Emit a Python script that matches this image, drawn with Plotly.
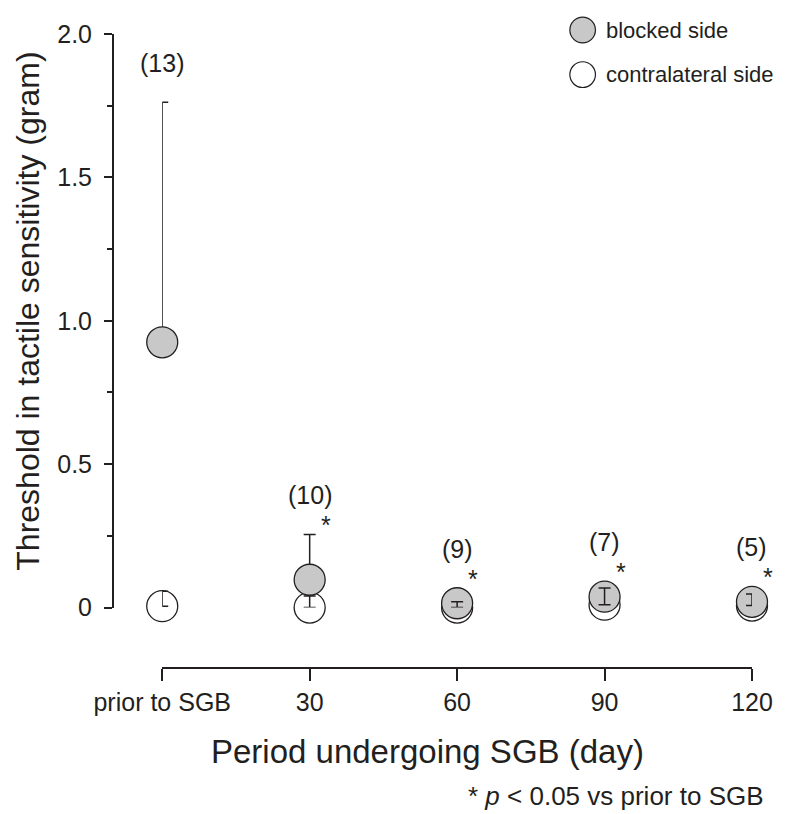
import plotly.graph_objects as go

# ---- data ----
categories = ["prior to SGB", "30", "60", "90", "120"]
blocked_mean = [0.925, 0.097, 0.015, 0.038, 0.02]
blocked_sd = [0.837, 0.158, 0.02, 0.03, 0.02]
contra_mean = [0.005, 0.0, 0.0, 0.01, 0.007]
contra_sd = [0.052, 0.04, 0.02, 0.058, 0.04]
n_labels = ["(13)", "(10)", "(9)", "(7)", "(5)"]
sig_marks = ["", "*", "*", "*", "*"]
ytick_vals = [0, 0.5, 1.0, 1.5, 2.0]
ytick_text = ["0", "0.5", "1.0", "1.5", "2.0"]

# ---- layout geometry (page body adds an 8px offset) ----
OFF = 8
W, H = 785 - OFF, 814 - OFF
ML = 113 - OFF
MT = 28 - OFF
XAX = 668 - OFF           # x-axis line pixel (figure coords)
MB = H - XAX
MR = W - (762 - OFF)
PW, PH = W - ML - MR, H - MT - MB
X0 = 163 - OFF            # x pixel of first category
Y0 = 607 - OFF            # y pixel of value 0


def pxx(p):
    """reference-screenshot x pixel -> paper fraction"""
    return (p - OFF - ML) / PW


def pxy(p):
    """reference-screenshot y pixel -> paper fraction"""
    return (XAX - (p - OFF)) / PH


yrange = [0, 2.0]
px_per_unit = (Y0 - MT) / (yrange[1] - yrange[0])

INK = "#231f20"
GRAY = "#c8c8c8"
FONT = "Arial, Liberation Sans, sans-serif"
MSIZE = 31

fig = go.Figure()

# contralateral markers (bottom layer)
fig.add_trace(go.Scatter(
    x=categories, y=contra_mean, mode="markers", name="contralateral side",
    marker=dict(size=MSIZE, color="white", line=dict(color=INK, width=1.3)),
    cliponaxis=False, showlegend=False, hoverinfo="skip"))

# blocked markers with their error bars beneath
fig.add_trace(go.Scatter(
    x=categories, y=blocked_mean, mode="markers", name="blocked side",
    marker=dict(size=MSIZE, color=GRAY, line=dict(color=INK, width=1.3)),
    error_y=dict(type="data", array=blocked_sd, arrayminus=[0] * 5,
                 symmetric=False, color=INK, thickness=1.5, width=6),
    cliponaxis=False, showlegend=False, hoverinfo="skip"))

# contralateral error bars on top
fig.add_trace(go.Scatter(
    x=categories, y=contra_mean, mode="markers",
    marker=dict(size=1, opacity=0),
    error_y=dict(type="data", array=contra_sd, arrayminus=[0] * 5,
                 symmetric=False, color=INK, thickness=1.5, width=6),
    cliponaxis=False, showlegend=False, hoverinfo="skip"))

annotations = []
radius_units = (MSIZE / 2) / px_per_unit
for i, (m, s, n, sig) in enumerate(zip(blocked_mean, blocked_sd, n_labels, sig_marks)):
    top = max(m + s, m + radius_units)
    annotations.append(dict(x=i, y=top, xref="x", yref="y", text=n, showarrow=False,
                            font=dict(family=FONT, size=25, color=INK),
                            yanchor="middle", yshift=39))
    if sig:
        annotations.append(dict(x=i, y=top, xref="x", yref="y", text=sig, showarrow=False,
                                font=dict(family=FONT, size=25, color=INK),
                                yanchor="middle", xshift=16, yshift=9))

# axis titles
annotations.append(dict(x=pxx(432), y=pxy(752), xref="paper", yref="paper",
                        text="Period undergoing SGB (day)", showarrow=False,
                        font=dict(family=FONT, size=33, color=INK),
                        xanchor="center", yanchor="middle"))
annotations.append(dict(x=pxx(27), y=pxy(308), xref="paper", yref="paper",
                        text="Threshold in tactile sensitivity (gram)", showarrow=False,
                        textangle=-90, font=dict(family=FONT, size=32, color=INK),
                        xanchor="center", yanchor="middle"))
# footnote
annotations.append(dict(x=pxx(776), y=pxy(797), xref="paper", yref="paper",
                        text="* <i>p</i> < 0.05 vs prior to SGB", showarrow=False,
                        font=dict(family=FONT, size=26, color=INK),
                        xanchor="right", yanchor="middle"))

# legend (drawn manually so the symbols keep their size)
legend_items = [("blocked side", GRAY, 24), ("contralateral side", "white", 69)]
shapes = []
for label, fill, cy in legend_items:
    shapes.append(dict(type="circle", xref="paper", yref="paper",
                       x0=pxx(577), x1=pxx(603), y0=pxy(cy + 13), y1=pxy(cy - 13),
                       fillcolor=fill, line=dict(color=INK, width=1.2)))
    annotations.append(dict(x=pxx(612), y=pxy(cy), xref="paper", yref="paper",
                            text=label, showarrow=False,
                            font=dict(family=FONT, size=22, color=INK),
                            xanchor="left", yanchor="middle"))

fig.update_layout(
    width=W, height=H,
    margin=dict(l=ML, r=MR, t=MT, b=MB, pad=0),
    paper_bgcolor="white", plot_bgcolor="white",
    font=dict(family=FONT, size=25, color=INK),
    showlegend=False,
    xaxis=dict(type="category", categoryorder="array", categoryarray=categories,
               range=[0, len(categories) - 1],
               domain=[(X0 - ML) / PW, 1], anchor="free", position=0,
               showline=True, linecolor=INK, linewidth=2,
               ticks="outside", ticklen=12, tickwidth=2, tickcolor=INK,
               showgrid=False, zeroline=False,
               tickfont=dict(family=FONT, size=25, color=INK)),
    yaxis=dict(range=yrange, domain=[(XAX - Y0) / PH, 1], anchor="free", position=0,
               tickvals=ytick_vals, ticktext=ytick_text,
               showline=True, linecolor=INK, linewidth=2,
               ticks="outside", ticklen=8, tickwidth=2, tickcolor=INK,
               minor=dict(dtick=0.25, ticks="outside", ticklen=5, tickwidth=1.5, tickcolor=INK),
               showgrid=False, zeroline=False, ticklabelstandoff=7,
               tickfont=dict(family=FONT, size=25, color=INK)),
    annotations=annotations, shapes=shapes,
)

fig.write_html("out.html")
